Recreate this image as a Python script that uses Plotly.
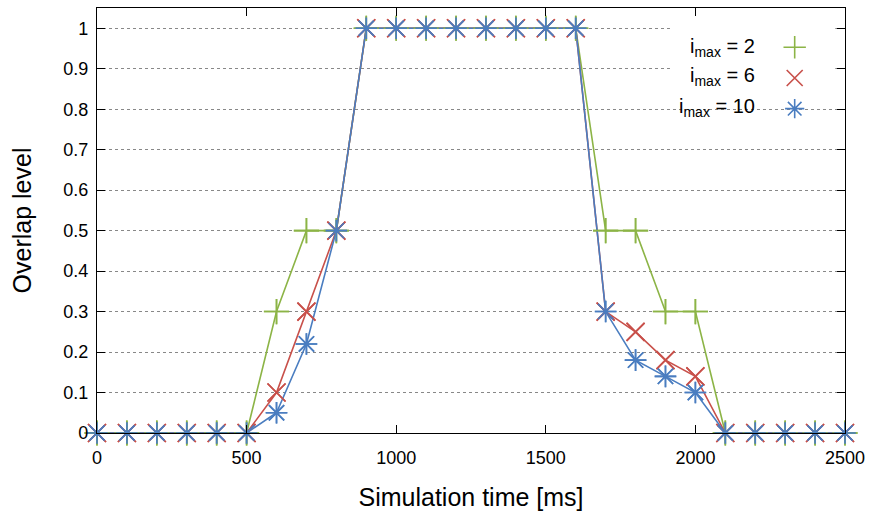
import plotly.graph_objects as go

time_ms = [0, 100, 200, 300, 400, 500, 600, 700, 800, 900, 1000, 1100, 1200, 1300,
           1400, 1500, 1600, 1700, 1800, 1900, 2000, 2100, 2200, 2300, 2400, 2500]
imax2 = [0, 0, 0, 0, 0, 0, 0.3, 0.5, 0.5, 1, 1, 1, 1, 1, 1, 1, 1, 0.5, 0.5, 0.3, 0.3, 0, 0, 0, 0, 0]
imax6 = [0, 0, 0, 0, 0, 0, 0.1, 0.3, 0.5, 1, 1, 1, 1, 1, 1, 1, 1, 0.3, 0.25, 0.18, 0.14, 0, 0, 0, 0, 0]
imax10 = [0, 0, 0, 0, 0, 0, 0.05, 0.22, 0.5, 1, 1, 1, 1, 1, 1, 1, 1, 0.3, 0.18, 0.14, 0.1, 0, 0, 0, 0, 0]

series_names = ["i<sub>max</sub> = 2", "i<sub>max</sub> = 6", "i<sub>max</sub> = 10"]
colors = ["#8cb446", "#c8504a", "#4a7dc0"]
symbols = ["cross-thin-open", "x-thin-open", "asterisk-open"]

x_ticks = [0, 500, 1000, 1500, 2000, 2500]
y_ticks = [0, 0.1, 0.2, 0.3, 0.4, 0.5, 0.6, 0.7, 0.8, 0.9, 1]
y_tick_labels = ["0", "0.1", "0.2", "0.3", "0.4", "0.5", "0.6", "0.7", "0.8", "0.9", "1"]

FONT = "Liberation Sans, Arial, sans-serif"

fig = go.Figure()
for name, ys, c, s in zip(series_names, [imax2, imax6, imax10], colors, symbols):
    fig.add_trace(go.Scatter(
        x=time_ms, y=ys, mode="lines+markers", name=name, showlegend=False,
        line=dict(color=c, width=1.6),
        marker=dict(symbol=s, size=18, line=dict(color=c, width=1.6), color=c),
        cliponaxis=False,
    ))
# legend keys (symbols only; labels drawn right-aligned to their left, as in the reference)
for i, (ys, c, s) in enumerate(zip([imax2, imax6, imax10], colors, symbols)):
    fig.add_trace(go.Scatter(
        x=time_ms, y=ys, mode="markers", name=" ", showlegend=True, legendgroup=f"g{i}",
        marker=dict(symbol=s, size=18, line=dict(color=c, width=1.6), color=c),
        cliponaxis=False,
    ))

label_rows_y = [0.908, 0.838, 0.767]
annotations = [
    dict(text=n, xref="paper", yref="paper", x=0.8824, y=yy, xanchor="right", yanchor="middle",
         showarrow=False, font=dict(size=20, family=FONT, color="black"))
    for n, yy in zip(series_names, label_rows_y)
]

# opaque key box hiding the grid behind the legend, as gnuplot does
key_box = dict(type="rect", xref="x domain", yref="y domain", x0=0.766, x1=0.987, y0=0.795, y1=0.975,
               fillcolor="white", line=dict(width=0), layer="above")

fig.update_layout(
    width=870, height=511,
    margin=dict(l=97, r=25, t=8, b=78),
    paper_bgcolor="white", plot_bgcolor="white",
    font=dict(family=FONT, size=18, color="black"),
    legend=dict(x=0.906, y=0.952, xanchor="left", yanchor="top",
                bgcolor="rgba(0,0,0,0)", font=dict(size=19),
                tracegroupgap=3, itemwidth=30),
    annotations=annotations,
    shapes=[key_box],
)
fig.update_xaxes(
    range=[0, 2500], tickvals=x_ticks, ticks="inside", ticklen=8, tickcolor="black",
    showline=True, linecolor="black", linewidth=1.2, mirror="ticks",
    showgrid=False, zeroline=False, automargin=False,
    tickfont=dict(size=18), ticklabelstandoff=8,
    title=dict(text="Simulation time [ms]", font=dict(size=25), standoff=22),
)
fig.update_yaxes(
    range=[0, 1.05], tickvals=y_ticks, ticktext=y_tick_labels, ticks="inside", ticklen=8,
    tickcolor="black", showline=True, linecolor="black", linewidth=1.2, mirror="ticks",
    showgrid=True, gridcolor="#888888", griddash="dot", gridwidth=1, zeroline=False,
    automargin=False, tickfont=dict(size=18), ticklabelstandoff=4,
    title=dict(text="Overlap level", font=dict(size=25), standoff=24),
)

fig.write_html("out.html", config={"displayModeBar": False},
               post_script="document.body.style.margin='0';")
